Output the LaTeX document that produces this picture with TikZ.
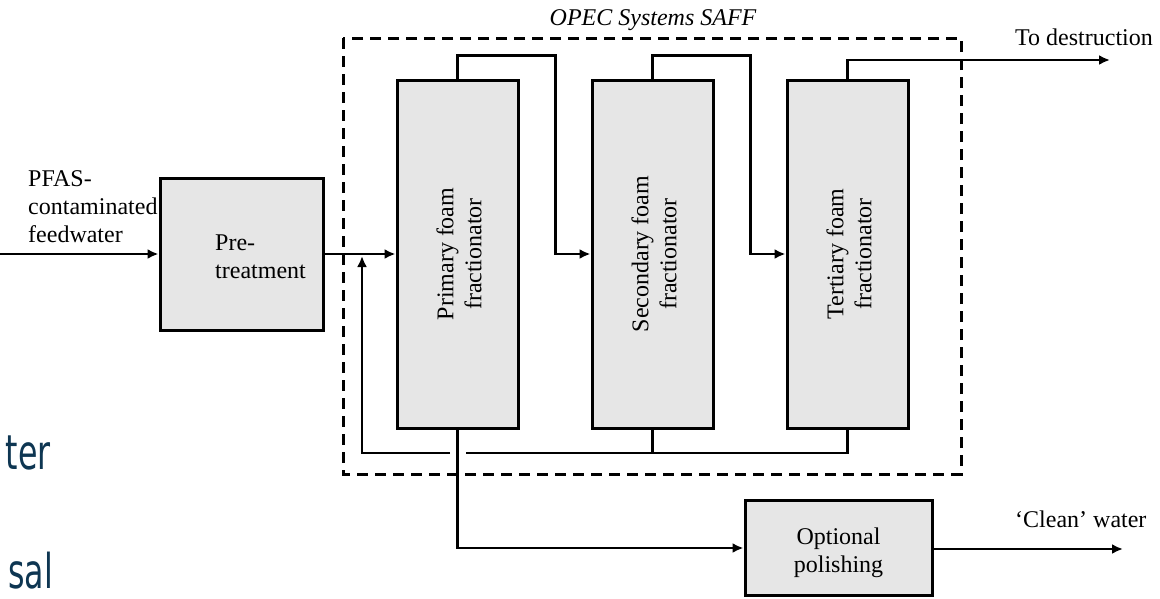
\documentclass[tikz,border=0pt]{standalone}
\usepackage{fontspec}
\setmainfont{Liberation Serif}
\newfontfamily\bluefont{DejaVu Sans}
\usetikzlibrary{arrows.meta}
\definecolor{boxgray}{HTML}{E6E6E6}
\definecolor{navy}{HTML}{0E3652}
\begin{document}
\begin{tikzpicture}[x=1pt,y=-1pt,
  box/.style={draw=black,line width=3pt,fill=boxgray,inner sep=0pt},
  wire/.style={line width=2.8pt},
  arr/.style={wire,-{Latex[length=11pt,width=10pt]}},
  lbl/.style={font=\fontsize{24}{28}\selectfont,inner sep=0pt},
  blue/.style={font=\bluefont\fontsize{48}{50}\selectfont,text=navy,inner sep=0pt}
]
\useasboundingbox (0,0) rectangle (1160,598);
% dashed system box
\draw[line width=3pt,dash pattern=on 11pt off 7pt] (343,38) rectangle (961,474);
\node[lbl,font=\fontsize{24}{28}\selectfont\itshape,anchor=base] (title) at (653,25) {OPEC Systems SAFF};
% boxes
\node[box,minimum width=163pt,minimum height=152pt] (pre) at (241.5,254) {};
\node[lbl,align=left,anchor=base west] (pretext) at (215,278) {Pre-\\treatment};
\node[box,minimum width=121pt,minimum height=348pt] (prim) at (457.5,254) {};
\node[box,minimum width=121pt,minimum height=348pt] (sec) at (652.5,254) {};
\node[box,minimum width=121pt,minimum height=348pt] (ter) at (847.5,254) {};
\node[lbl,rotate=90,align=center] (primtext) at (459,254) {Primary foam\\fractionator};
\node[lbl,rotate=90,align=center] (sectext) at (654,254) {Secondary foam\\fractionator};
\node[lbl,rotate=90,align=center] (tertext) at (849,254) {Tertiary foam\\fractionator};
\node[box,minimum width=187pt,minimum height=95pt] (pol) at (838.5,548) {};
\node[lbl,align=center,anchor=base] (poltext) at (838.5,572) {Optional\\polishing};
% labels
\node[lbl,align=left,anchor=base west] (feedtext) at (28,242) {PFAS-\\contaminated\\feedwater};
\node[lbl,anchor=base west] (destr) at (1015,45) {To destruction};
\node[lbl,anchor=base west] (clean) at (1015,527) {‘Clean’ water};
\node[blue,anchor=base east] (ter1) at (51,469) {\scalebox{0.66}[1]{ter}};
\node[blue,anchor=base east] (sal1) at (53,588) {\scalebox{0.66}[1]{sal}};
% coordinates
\coordinate (feed) at (0,254);
\coordinate (retL) at (362,453);
\coordinate (gapL) at (450,453);
\coordinate (gapR) at (466,453);
\coordinate (retTip) at (362,256);
\coordinate (outD) at (1110,60);
\coordinate (outC) at (1123,549);
% connectors
\draw[arr] (feed) -- (pre.west |- feed);
\draw[arr] (pre.east |- feed) -- (prim.west |- feed);
\draw[wire] (ter.south) |- (gapR);
\draw[wire] (sec.south) -- (sec.south |- gapR);
\draw[arr] (gapL) -- (retL) -- (retTip);
\draw[arr] (prim.south) |- (pol.west);
\draw[arr] (prim.north) -- ++(0,-23) -| ([xshift=-35pt]sec.west) -- (sec.west);
\draw[arr] (sec.north) -- ++(0,-23) -| ([xshift=-35pt]ter.west) -- (ter.west);
\draw[arr] (ter.north) |- (outD);
\draw[arr] (pol.east |- outC) -- (outC);
\end{tikzpicture}
\end{document}
